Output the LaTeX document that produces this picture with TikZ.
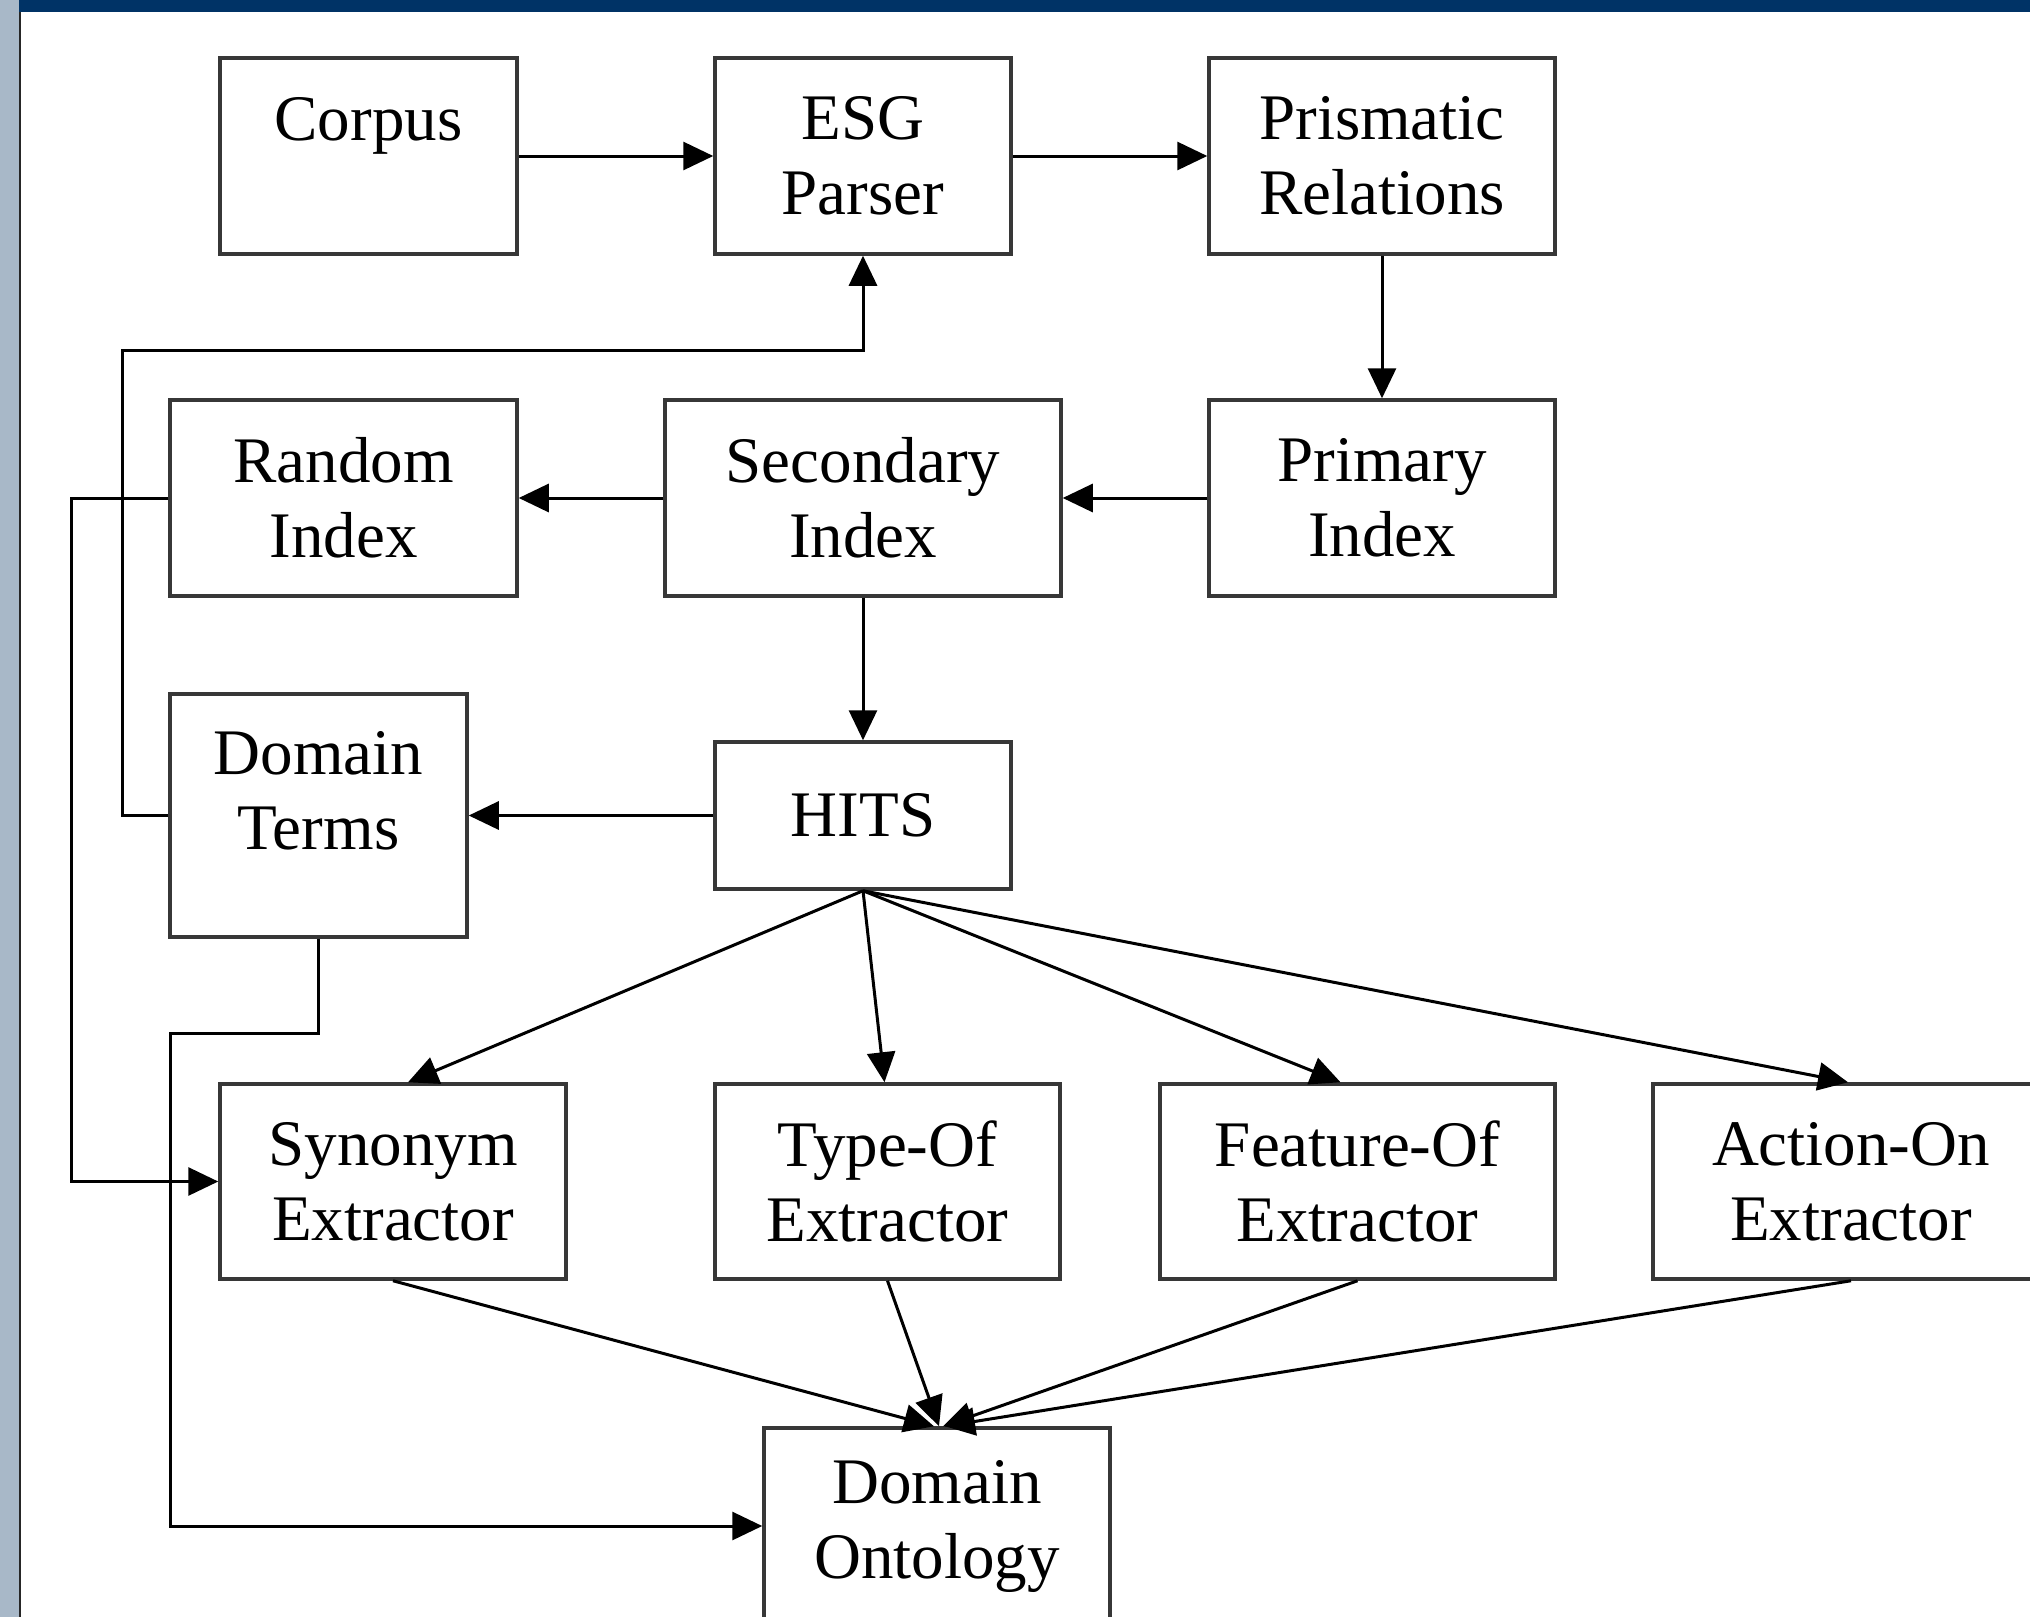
\documentclass[tikz,border=0pt]{standalone}
\usepackage{fontspec}
\setmainfont{Liberation Serif}
\usetikzlibrary{arrows.meta,calc}
\definecolor{barblue}{RGB}{0,51,102}
\definecolor{stripblue}{RGB}{168,184,200}
\definecolor{boxgray}{RGB}{55,55,55}
\begin{document}
\begin{tikzpicture}[x=1pt,y=-1pt,
  box/.style={draw=boxgray,line width=3.5pt,rectangle,inner sep=0pt,align=center,
    font=\fontsize{65}{75}\selectfont},
  txt/.style={inner sep=0pt,align=center,font=\fontsize{65}{75}\selectfont},
  arr/.style={draw=black,line width=3pt,-{Triangle[length=30pt,width=28pt]}},
  ln/.style={draw=black,line width=3pt}]
\useasboundingbox (0,0) rectangle (2030,1617);
\fill[white] (0,0) rectangle (2030,1617);
\fill[stripblue] (0,0) rectangle (19,1617);
\fill[barblue] (19,0) rectangle (2030,12);
\draw[line width=2pt,black!85] (20,12) -- (20,1617);

% nodes
\node[box,minimum width=297pt,minimum height=196pt] (corpus) at (368.5,156) {Corpus\\\mbox{}};
\node[box,minimum width=296pt,minimum height=196pt] (esg) at (863,156) {ESG\\Parser};
\node[box,minimum width=346pt,minimum height=196pt] (prism) at (1382,156) {Prismatic\\Relations};
\node[box,minimum width=347pt,minimum height=196pt] (random) at (343.5,498) {Random\\Index};
\node[box,minimum width=396pt,minimum height=196pt] (second) at (863,498) {Secondary\\Index};
\node[box,minimum width=346pt,minimum height=196pt] (primary) at (1382,498) {Primary\\Index};
\node[box,minimum width=297pt,minimum height=243pt] (dterms) at (318.5,815.5) {};
\node[txt] (dtermstxt) at (318.5,791) {Domain\\Terms};
\node[box,minimum width=296pt,minimum height=147pt] (hits) at (863,815.5) {HITS};
\node[box,minimum width=346pt,minimum height=195pt] (syn) at (393,1181.5) {Synonym\\Extractor};
\node[box,minimum width=345pt,minimum height=195pt] (typeof) at (887.5,1181.5) {Type-Of\\Extractor};
\node[box,minimum width=395pt,minimum height=195pt] (featof) at (1357.5,1181.5) {Feature-Of\\Extractor};
\node[box,minimum width=396pt,minimum height=195pt] (action) at (1851,1181.5) {Action-On\\Extractor};
\node[box,minimum width=346pt,minimum height=196pt] (onto) at (937,1526) {Domain\\Ontology};

% junction coordinates
\coordinate (jA) at (71,498);
\coordinate (jB) at (122,350);
\coordinate (jC) at (170,1033);

% connectors
\draw[arr] (corpus.east) -- (esg.west);
\draw[arr] (esg.east) -- (prism.west);
\draw[arr] (prism.south) -- (primary.north);
\draw[arr] (primary.west) -- (second.east);
\draw[arr] (second.west) -- (random.east);
\draw[arr] (second.south) -- (hits.north);
\draw[arr] (hits.west) -- (dterms.east);
\draw[arr] (random.west) -- (jA) |- (syn.west);
\draw[arr] (dterms.west) -| (jB) -| (esg.south);
\draw[arr] (dterms.south) |- (jC) |- (onto.west);

\draw[arr] (hits.south) -- ([xshift=15pt]syn.north);
\draw[arr] (hits.south) -- ([xshift=-3pt]typeof.north);
\draw[arr] (hits.south) -- ([xshift=-17pt]featof.north);
\draw[arr] (hits.south) -- ([xshift=-3pt]action.north);

\draw[arr] (syn.south) -- ([xshift=-3pt]onto.north);
\draw[arr] (typeof.south) -- ([xshift=2pt]onto.north);
\draw[arr] (featof.south) -- ([xshift=6pt]onto.north);
\draw[arr] (action.south) -- ([xshift=8pt]onto.north);
\end{tikzpicture}
\end{document}
